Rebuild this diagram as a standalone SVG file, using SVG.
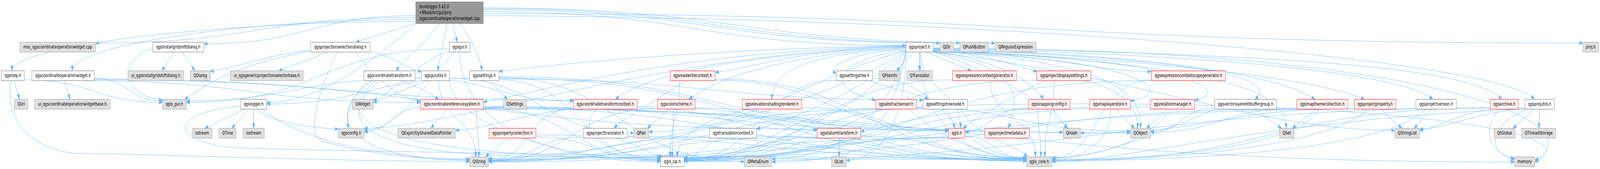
<svg xmlns="http://www.w3.org/2000/svg" width="5980" height="432" viewBox="0 0 5980 432" preserveAspectRatio="none">
<defs>
<marker id="a" markerUnits="userSpaceOnUse" markerWidth="14" markerHeight="10" refX="13" refY="4.5" orient="auto">
<path d="M0,0 L13,4.5 L0,9 z" fill="#63b8ff" stroke="#63b8ff" stroke-width="1"/>
</marker>
<style>
svg{width:100vw;height:100vh}
.e{fill:none;stroke:#63b8ff;stroke-width:1;marker-end:url(#a)}
.node rect{stroke-width:1}
.w rect{fill:#ffffff;stroke:#666666}
.g rect{fill:#e0e0e0;stroke:#999999}
.r rect{fill:#fff0f0;stroke:#ff0000}
.m rect{fill:#999999;stroke:#666666}
text{font-family:"DejaVu Sans","Liberation Sans",sans-serif;font-size:12.8px;fill:#000000}
.c{text-anchor:middle}
</style>
</defs>
<rect x="0" y="0" width="5980" height="432" fill="#ffffff"/>
<g id="connectors">
<!-- main -->
<path class="e" d="M1554,45 C956,45 956,110 357,110"/>
<path class="e" d="M1554,55 C800,55 45,118 45,181"/>
<path class="e" d="M1554,50 C912,50 270,115 270,181"/>
<path class="e" d="M1554,40 C1158,40 1158,112 762,112"/>
<path class="e" d="M1554,60 C1480,75 1400,92 1330,108"/>
<path class="e" d="M1692,60 L1709,108"/>
<path class="e" d="M1671,60 C1660,100 1645,150 1635,181"/>
<path class="e" d="M1718,60 C1760,95 1790,140 1802,181"/>
<path class="e" d="M1642,60 C1600,100 1530,140 1480,181"/>
<path class="e" d="M1560,60 C1400,150 1200,262 997,262"/>
<path class="e" d="M1806,30 C2596,30 2596,116 3386,116"/>
<path class="e" d="M1806,25 C2660,25 2660,110 3513,110"/>
<path class="e" d="M1806,22 C2700,22 2700,110 3587,110"/>
<path class="e" d="M1806,20 C2760,20 2760,110 3719,110"/>
<path class="e" d="M1806,35 C3860,35 3860,110 5916,110"/>
<path class="e" d="M1806,40 C3700,45 5600,150 5735,254"/>
<!-- help -->
<path class="e" d="M53,206 C60,225 68,240 72,254"/>
<path class="e" d="M91,204 C350,204 350,262 607,262"/>
<path class="e" d="M42,206 C10,320 150,392 300,392 S1300,413 1755,413"/>
<!-- covw -->
<path class="e" d="M242,206 L262,254"/>
<path class="e" d="M352,200 C480,200 480,258 607,258"/>
<path class="e" d="M302,206 C936,206 936,262 1571,262"/>
<path class="e" d="M352,202 C1250,202 1250,256 2143,256"/>
<path class="e" d="M352,204 C1700,204 1700,330 3054,330"/>
<!-- instgrid -->
<path class="e" d="M652,133 L605,181"/>
<path class="e" d="M680,133 L728,181"/>
<path class="e" d="M571,126 C460,140 430,240 607,256"/>
<!-- projsel -->
<path class="e" d="M1225,133 L1042,181"/>
<path class="e" d="M1161,128 C1000,140 900,170 786,183"/>
<path class="e" d="M1161,130 C900,165 800,200 690,254"/>
<path class="e" d="M1330,133 C1400,200 1500,258 1571,258"/>
<path class="e" d="M1383,130 C1480,150 1530,178 1575,183"/>
<path class="e" d="M1261,133 C1180,240 1150,350 1200,360 C1400,400 1600,408 1755,408"/>
<!-- gui -->
<path class="e" d="M1680,125 C1200,125 1200,262 696,262"/>
<path class="e" d="M1680,130 C1550,160 1450,250 1395,256"/>
<path class="e" d="M1718,133 C1718,300 2000,413 2469,413"/>
<path class="e" d="M1700,133 C1600,200 1500,333 1361,333"/>
<!-- guiutils -->
<path class="e" d="M1575,200 C1100,200 1100,258 696,258"/>
<path class="e" d="M1640,206 C1640,303 1778,303 1778,401"/>
<path class="e" d="M1680,200 C2020,200 2020,340 2369,340"/>
<path class="e" d="M1600,206 C1500,230 1420,258 1395,262"/>
<path class="e" d="M1680,204 C1680,310 2070,409 2469,409"/>
<!-- settings -->
<path class="e" d="M1830,206 L1897,254"/>
<path class="e" d="M1865,200 C2850,200 2850,411 3836,411"/>
<path class="e" d="M1865,204 C2170,204 2170,410 2469,410"/>
<path class="e" d="M1865,196 C2700,196 2700,335 3545,335"/>
<path class="e" d="M1865,198 C2320,198 2320,413 2782,413"/>
<path class="e" d="M1755,200 C1376,200 1376,266 997,266"/>
<path class="e" d="M1865,202 C2650,202 2650,256 3450,256"/>
<!-- cttrans -->
<path class="e" d="M1385,206 C1330,230 1280,290 1305,328"/>
<path class="e" d="M1500,206 C1560,220 1610,240 1640,254"/>
<path class="e" d="M1551,200 C1850,200 1850,258 2143,258"/>
<path class="e" d="M1390,206 C1200,300 1300,410 1755,410"/>
<path class="e" d="M1420,206 C1250,300 1320,395 2000,400 S3500,408 3836,408"/>
<path class="e" d="M1405,206 C1220,310 1400,400 2469,405"/>
<!-- logger -->
<path class="e" d="M915,279 L766,328"/>
<path class="e" d="M930,279 L866,328"/>
<path class="e" d="M948,279 L948,328"/>
<path class="e" d="M958,279 C1000,310 1150,326 1265,330"/>
<path class="e" d="M899,271 C600,290 650,370 900,378 S3000,405 3836,405"/>
<path class="e" d="M980,279 C1100,350 1400,406 1755,406"/>
<!-- crs -->
<path class="e" d="M1673,279 L1610,328"/>
<path class="e" d="M1807,275 C2800,275 2800,407 3836,407"/>
<path class="e" d="M1807,277 C2140,277 2140,408 2469,408"/>
<path class="e" d="M1780,279 C1780,340 1790,340 1790,401"/>
<path class="e" d="M1571,275 C1460,275 1460,337 1361,337"/>
<path class="e" d="M1807,272 C2680,272 2680,333 3545,333"/>
<path class="e" d="M1807,274 C2890,274 2890,338 3973,338"/>
<path class="e" d="M1807,276 C3000,276 3000,340 4225,340"/>
<path class="e" d="M1807,279 C3700,279 3700,414 5660,414"/>
<!-- ctctx -->
<path class="e" d="M2382,272 C3100,272 3100,405 3836,405"/>
<path class="e" d="M2230,279 C2150,330 2250,400 2469,404"/>
<path class="e" d="M2382,276 C2700,276 2700,333 3054,333"/>
<path class="e" d="M2143,276 C1980,276 1980,410 1826,410"/>
<path class="e" d="M2143,279 C1950,290 1800,333 1702,333"/>
<!-- colorscheme -->
<path class="e" d="M2500,279 L2420,328"/>
<path class="e" d="M2517,279 C2517,340 2513,340 2513,401"/>
<path class="e" d="M2598,276 C3200,276 3200,406 3836,406"/>
<path class="e" d="M2458,278 C2140,278 2140,412 1826,412"/>
<!-- propcoll -->
<path class="e" d="M1895,353 C1870,370 1830,390 1815,401"/>
<path class="e" d="M2003,345 C2900,345 2900,409 3836,409"/>
<path class="e" d="M2003,350 C2230,350 2230,412 2469,412"/>
<!-- projtrans -->
<path class="e" d="M2305,353 C2380,370 2430,392 2475,401"/>
<path class="e" d="M2344,348 C3100,348 3100,410 3836,410"/>
<path class="e" d="M2180,350 C2000,350 2000,411 1826,411"/>
<!-- transctx -->
<path class="e" d="M2700,353 C2620,370 2600,408 2557,408"/>
<path class="e" d="M2828,348 C3330,348 3330,412 3836,412"/>
<path class="e" d="M2652,350 C2240,350 2240,409 1826,409"/>
<!-- elev -->
<path class="e" d="M2800,279 C2650,300 2540,340 2530,401"/>
<path class="e" d="M2996,275 C3400,275 3400,404 3836,404"/>
<!-- rwctx -->
<path class="e" d="M2560,206 C2450,260 2330,300 2295,328"/>
<path class="e" d="M2673,202 C3250,202 3250,403 3836,403"/>
<path class="e" d="M2540,206 C2540,303 2505,303 2505,401"/>
<path class="e" d="M2673,205 C3100,205 3100,331 3545,331"/>
<!-- datum -->
<path class="e" d="M3136,353 L3136,401"/>
<path class="e" d="M3217,348 C3520,348 3520,408 3836,408"/>
<path class="e" d="M3054,350 C2440,350 2440,410 1826,410"/>
<path class="e" d="M3054,352 C2800,352 2800,411 2557,411"/>
<!-- settingstree -->
<path class="e" d="M3250,206 C3350,230 3430,240 3470,254"/>
<path class="e" d="M3261,200 C3550,200 3550,402 3836,402"/>
<path class="e" d="M3126,205 C2840,205 2840,409 2557,409"/>
<!-- stnode -->
<path class="e" d="M3540,279 L3570,328"/>
<path class="e" d="M3590,279 C3650,350 3800,370 3840,401"/>
<path class="e" d="M3450,276 C3000,276 3000,410 2557,410"/>
<path class="e" d="M3450,278 C2640,278 2640,413 1826,413"/>
<!-- qgis.h -->
<path class="e" d="M3607,348 C3720,348 3720,406 3836,406"/>
<path class="e" d="M3545,350 C3215,350 3215,414 2885,414"/>
<path class="e" d="M3545,352 C3050,352 3050,412 2557,412"/>
<path class="e" d="M3545,353 C2700,353 2700,414 1826,414"/>
<!-- project -->
<path class="e" d="M3418,133 L3350,181"/>
<path class="e" d="M3437,133 L3437,181"/>
<path class="e" d="M3460,133 L3630,181"/>
<path class="e" d="M3488,128 C3700,140 3800,170 3875,183"/>
<path class="e" d="M3488,130 C3900,135 4100,183 4303,183"/>
<path class="e" d="M3386,127 C3200,130 3080,170 3126,188"/>
<path class="e" d="M3386,130 C3150,145 3050,220 3273,256"/>
<path class="e" d="M3488,131 C3700,150 3850,200 3900,254"/>
<path class="e" d="M3488,133 C4300,150 4400,240 4225,258"/>
<path class="e" d="M3488,132 C4500,150 4600,240 4465,256"/>
<path class="e" d="M3488,125 C4400,150 4800,190 4690,254"/>
<path class="e" d="M3488,126 C4400,140 4800,200 4915,254"/>
<path class="e" d="M3488,128 C4500,160 4950,210 5100,254"/>
<path class="e" d="M3488,124 C4600,140 5250,190 5355,254"/>
<path class="e" d="M3488,122 C4800,140 5500,170 5613,254"/>
<path class="e" d="M3386,122 C2700,140 2400,200 2300,254"/>
<path class="e" d="M3386,118 C2500,130 2000,240 1807,260"/>
<path class="e" d="M3386,119 C3000,125 2800,175 2673,185"/>
<path class="e" d="M3386,121 C2900,140 2650,210 2575,254"/>
<path class="e" d="M3386,124 C3000,140 2890,180 2885,254"/>
<path class="e" d="M3386,128 C3300,200 3000,300 2828,330"/>
<path class="e" d="M3488,133 C3800,170 3820,240 3768,328"/>
<path class="e" d="M3440,133 C3440,230 3590,230 3590,328"/>
<path class="e" d="M3488,133 C3800,200 3950,300 3990,328"/>
<path class="e" d="M3488,130 C4200,160 4270,250 4262,328"/>
<path class="e" d="M3488,126 C4700,170 4800,250 4808,328"/>
<path class="e" d="M3488,133 C4300,200 4700,333 5213,333"/>
<path class="e" d="M3386,130 C3000,200 2800,337 2425,337"/>
<path class="e" d="M3386,133 C3386,300 3300,410 3163,410"/>
<path class="e" d="M3488,124 C5200,120 6000,300 5737,410"/>
<path class="e" d="M3437,133 C3437,300 3600,408 3836,407"/>
<path class="e" d="M3386,133 C3200,300 2800,405 2557,405"/>
<path class="e" d="M3386,131 C3000,300 2200,405 1826,405"/>
<path class="e" d="M3386,117 C2600,125 2000,170 1865,183"/>
<path class="e" d="M3386,120 C2500,130 1700,328 1361,328"/>
<path class="e" d="M3386,133 C3350,250 3300,335 3217,335"/>
<path class="e" d="M3386,133 C3300,330 3100,406 2885,406"/>
<!-- exprgen -->
<path class="e" d="M3560,204 C3050,204 3050,407 2557,407"/>
<path class="e" d="M3700,206 C3700,300 3870,300 3870,401"/>
<!-- projdisp -->
<path class="e" d="M4050,206 C4200,230 4260,280 4250,328"/>
<path class="e" d="M3940,206 C3940,303 3905,303 3905,401"/>
<path class="e" d="M3905,206 C3800,240 3650,300 3600,328"/>
<path class="e" d="M3875,205 C3200,205 3200,408 2557,408"/>
<!-- exprscopegen -->
<path class="e" d="M4303,204 C4100,204 4100,406 3932,406"/>
<path class="e" d="M4303,206 C3400,206 3400,409 2557,409"/>
<!-- sensor -->
<path class="e" d="M3425,275 C3800,275 3800,335 4225,335"/>
<path class="e" d="M3400,279 C3500,350 3700,405 3836,405"/>
<path class="e" d="M3273,277 C2900,277 2900,406 2557,406"/>
<path class="e" d="M3273,279 C2550,279 2550,412 1826,412"/>
<path class="e" d="M3425,272 C5000,240 6000,330 5737,414"/>
<!-- snapping -->
<path class="e" d="M3935,279 L3990,328"/>
<path class="e" d="M3880,279 C3880,340 3890,340 3890,401"/>
<path class="e" d="M3844,278 C3200,278 3200,411 2557,411"/>
<path class="e" d="M3844,276 C3700,276 3700,337 3607,337"/>
<!-- mlstore -->
<path class="e" d="M4170,279 L4240,328"/>
<path class="e" d="M4150,279 C4160,350 4050,410 3932,410"/>
<path class="e" d="M4073,275 C3300,275 3300,404 2557,404"/>
<!-- relmgr -->
<path class="e" d="M4360,279 L4285,328"/>
<path class="e" d="M4375,279 C4300,360 4100,403 3932,403"/>
<path class="e" d="M4300,274 C3400,274 3400,403 2557,403"/>
<!-- vleditbuf -->
<path class="e" d="M4690,279 L4790,328"/>
<path class="e" d="M4540,276 C4420,276 4420,335 4300,335"/>
<path class="e" d="M4540,279 C4300,350 4100,404 3932,404"/>
<!-- maptheme -->
<path class="e" d="M4920,279 L4830,328"/>
<path class="e" d="M4847,277 C4570,277 4570,338 4300,338"/>
<path class="e" d="M4930,279 C4850,380 4300,408 3932,408"/>
<path class="e" d="M4847,279 C3700,279 3700,402 2557,402"/>
<!-- projprop -->
<path class="e" d="M5160,279 L5240,328"/>
<path class="e" d="M5062,278 C4550,278 4550,340 4038,340"/>
<path class="e" d="M5110,279 C5000,360 4500,409 3932,409"/>
<!-- projver -->
<path class="e" d="M5350,279 L5285,328"/>
<path class="e" d="M5330,279 C5200,370 4600,411 3932,411"/>
<path class="e" d="M5292,277 C3500,277 3500,407 1826,407"/>
<!-- archive -->
<path class="e" d="M5603,279 C5540,330 5560,390 5660,405"/>
<path class="e" d="M5570,276 C4750,276 4750,412 3932,412"/>
<path class="e" d="M5570,279 C5450,290 5350,333 5306,333"/>
<!-- projutils -->
<path class="e" d="M5733,279 L5655,328"/>
<path class="e" d="M5754,279 L5752,328"/>
<path class="e" d="M5712,279 C5580,310 5540,385 5660,409"/>
<path class="e" d="M5699,279 C4800,300 4200,413 3932,413"/>
<path class="e" d="M5699,277 C5500,290 5400,330 5306,330"/>
<path class="e" d="M5699,275 C4100,275 4100,413 2557,413"/>
</g>
<g id="main" class="node m"><rect x="1554" y="5" width="252" height="55"/><text x="1566" y="21">/build/qgis-3.42.0</text><text x="1566" y="36">+99sid/src/gui/proj</text><text x="1566" y="51">/qgscoordinateoperationwidget.cpp</text></g>
<g id="moc" class="node g"><rect x="74" y="108" width="283" height="25"/><text class="c" x="215.5" y="124.5">moc_qgscoordinateoperationwidget.cpp</text></g>
<g id="instgrid" class="node w"><rect x="571" y="108" width="191" height="25"/><text class="c" x="666.5" y="124.5">qgsinstallgridshiftdialog.h</text></g>
<g id="projsel" class="node w"><rect x="1161" y="108" width="222" height="25"/><text class="c" x="1272" y="124.5">qgsprojectionselectiondialog.h</text></g>
<g id="gui" class="node w"><rect x="1680" y="108" width="77" height="25"/><text class="c" x="1718.5" y="124.5">qgsgui.h</text></g>
<g id="project" class="node w"><rect x="3386" y="108" width="102" height="25"/><text class="c" x="3437" y="124.5">qgsproject.h</text></g>
<g id="qdir" class="node g"><rect x="3513" y="108" width="51" height="25"/><text class="c" x="3538.5" y="124.5">QDir</text></g>
<g id="qpushbutton" class="node g"><rect x="3587" y="108" width="108" height="25"/><text class="c" x="3641" y="124.5">QPushButton</text></g>
<g id="qregexp" class="node g"><rect x="3719" y="108" width="154" height="25"/><text class="c" x="3796" y="124.5">QRegularExpression</text></g>
<g id="projh" class="node g"><rect x="5916" y="108" width="59" height="25"/><text class="c" x="5945.5" y="124.5">proj.h</text></g>
<g id="help" class="node w"><rect x="5" y="181" width="86" height="25"/><text class="c" x="48" y="197.5">qgshelp.h</text></g>
<g id="covw" class="node w"><rect x="119" y="181" width="233" height="25"/><text class="c" x="235.5" y="197.5">qgscoordinateoperationwidget.h</text></g>
<g id="uiinst" class="node g"><rect x="478" y="181" width="209" height="25"/><text class="c" x="582.5" y="197.5">ui_qgsinstallgridshiftdialog.h</text></g>
<g id="qdialog" class="node g"><rect x="711" y="181" width="75" height="25"/><text class="c" x="748.5" y="197.5">QDialog</text></g>
<g id="uigeneric" class="node g"><rect x="861" y="181" width="272" height="25"/><text class="c" x="997" y="197.5">ui_qgsgenericprojectionselectorbase.h</text></g>
<g id="cttrans" class="node w"><rect x="1360" y="181" width="191" height="25"/><text class="c" x="1455.5" y="197.5">qgscoordinatetransform.h</text></g>
<g id="guiutils" class="node w"><rect x="1575" y="181" width="105" height="25"/><text class="c" x="1627.5" y="197.5">qgsguiutils.h</text></g>
<g id="settings" class="node w"><rect x="1755" y="181" width="110" height="25"/><text class="c" x="1810" y="197.5">qgssettings.h</text></g>
<g id="rwctx" class="node r"><rect x="2505" y="181" width="168" height="25"/><text class="c" x="2589" y="197.5">qgsreadwritecontext.h</text></g>
<g id="settingstree" class="node w"><rect x="3126" y="181" width="135" height="25"/><text class="c" x="3193.5" y="197.5">qgssettingstree.h</text></g>
<g id="qfileinfo" class="node g"><rect x="3285" y="181" width="80" height="25"/><text class="c" x="3325" y="197.5">QFileInfo</text></g>
<g id="qtranslator" class="node g"><rect x="3389" y="181" width="96" height="25"/><text class="c" x="3437" y="197.5">QTranslator</text></g>
<g id="exprgen" class="node r"><rect x="3560" y="181" width="239" height="25"/><text class="c" x="3679.5" y="197.5">qgsexpressioncontextgenerator.h</text></g>
<g id="projdisp" class="node r"><rect x="3875" y="181" width="202" height="25"/><text class="c" x="3976" y="197.5">qgsprojectdisplaysettings.h</text></g>
<g id="exprscopegen" class="node r"><rect x="4303" y="181" width="278" height="25"/><text class="c" x="4442" y="197.5">qgsexpressioncontextscopegenerator.h</text></g>
<g id="qurl" class="node g"><rect x="54" y="254" width="51" height="25"/><text class="c" x="79.5" y="270.5">QUrl</text></g>
<g id="uicovwbase" class="node g"><rect x="129" y="254" width="283" height="25"/><text class="c" x="270.5" y="270.5">ui_qgscoordinateoperationwidgetbase.h</text></g>
<g id="qgisgui" class="node g"><rect x="607" y="254" width="89" height="25"/><text class="c" x="651.5" y="270.5">qgis_gui.h</text></g>
<g id="logger" class="node w"><rect x="899" y="254" width="98" height="25"/><text class="c" x="948" y="270.5">qgslogger.h</text></g>
<g id="qwidget" class="node g"><rect x="1316" y="254" width="79" height="25"/><text class="c" x="1355.5" y="270.5">QWidget</text></g>
<g id="crs" class="node r"><rect x="1571" y="254" width="236" height="25"/><text class="c" x="1689" y="270.5">qgscoordinatereferencesystem.h</text></g>
<g id="qsettings" class="node g"><rect x="1881" y="254" width="86" height="25"/><text class="c" x="1924" y="270.5">QSettings</text></g>
<g id="ctctx" class="node r"><rect x="2143" y="254" width="239" height="25"/><text class="c" x="2262.5" y="270.5">qgscoordinatetransformcontext.h</text></g>
<g id="colorscheme" class="node r"><rect x="2458" y="254" width="140" height="25"/><text class="c" x="2528" y="270.5">qgscolorscheme.h</text></g>
<g id="elev" class="node r"><rect x="2774" y="254" width="222" height="25"/><text class="c" x="2885" y="270.5">qgselevationshadingrenderer.h</text></g>
<g id="sensor" class="node r"><rect x="3273" y="254" width="152" height="25"/><text class="c" x="3349" y="270.5">qgsabstractsensor.h</text></g>
<g id="stnode" class="node w"><rect x="3450" y="254" width="166" height="25"/><text class="c" x="3533" y="270.5">qgssettingstreenode.h</text></g>
<g id="snapping" class="node r"><rect x="3844" y="254" width="155" height="25"/><text class="c" x="3921.5" y="270.5">qgssnappingconfig.h</text></g>
<g id="mlstore" class="node r"><rect x="4073" y="254" width="152" height="25"/><text class="c" x="4149" y="270.5">qgsmaplayerstore.h</text></g>
<g id="relmgr" class="node r"><rect x="4300" y="254" width="165" height="25"/><text class="c" x="4382.5" y="270.5">qgsrelationmanager.h</text></g>
<g id="vleditbuf" class="node w"><rect x="4540" y="254" width="231" height="25"/><text class="c" x="4655.5" y="270.5">qgsvectorlayereditbuffergroup.h</text></g>
<g id="maptheme" class="node r"><rect x="4847" y="254" width="191" height="25"/><text class="c" x="4942.5" y="270.5">qgsmapthemecollection.h</text></g>
<g id="projprop" class="node r"><rect x="5062" y="254" width="155" height="25"/><text class="c" x="5139.5" y="270.5">qgsprojectproperty.h</text></g>
<g id="projver" class="node w"><rect x="5292" y="254" width="151" height="25"/><text class="c" x="5367.5" y="270.5">qgsprojectversion.h</text></g>
<g id="archive" class="node r"><rect x="5570" y="254" width="105" height="25"/><text class="c" x="5622.5" y="270.5">qgsarchive.h</text></g>
<g id="projutils" class="node w"><rect x="5699" y="254" width="111" height="25"/><text class="c" x="5754.5" y="270.5">qgsprojutils.h</text></g>
<g id="sstream" class="node g"><rect x="718" y="328" width="75" height="25"/><text class="c" x="755.5" y="344.5">sstream</text></g>
<g id="qtime" class="node g"><rect x="818" y="328" width="65" height="25"/><text class="c" x="850.5" y="344.5">QTime</text></g>
<g id="iostream" class="node g"><rect x="908" y="328" width="80" height="25"/><text class="c" x="948" y="344.5">iostream</text></g>
<g id="config" class="node g"><rect x="1265" y="328" width="96" height="25"/><text class="c" x="1313" y="344.5">qgsconfig.h</text></g>
<g id="qesdp" class="node g"><rect x="1487" y="328" width="215" height="25"/><text class="c" x="1594.5" y="344.5">QExplicitlySharedDataPointer</text></g>
<g id="propcoll" class="node r"><rect x="1828" y="328" width="175" height="25"/><text class="c" x="1915.5" y="344.5">qgspropertycollection.h</text></g>
<g id="projtrans" class="node w"><rect x="2180" y="328" width="164" height="25"/><text class="c" x="2262" y="344.5">qgsprojecttranslator.h</text></g>
<g id="qpair" class="node g"><rect x="2369" y="328" width="56" height="25"/><text class="c" x="2397" y="344.5">QPair</text></g>
<g id="transctx" class="node w"><rect x="2652" y="328" width="176" height="25"/><text class="c" x="2740" y="344.5">qgstranslationcontext.h</text></g>
<g id="datum" class="node r"><rect x="3054" y="328" width="163" height="25"/><text class="c" x="3135.5" y="344.5">qgsdatumtransform.h</text></g>
<g id="qgish" class="node r"><rect x="3545" y="328" width="62" height="25"/><text class="c" x="3576" y="344.5">qgis.h</text></g>
<g id="projmeta" class="node r"><rect x="3681" y="328" width="166" height="25"/><text class="c" x="3764" y="344.5">qgsprojectmetadata.h</text></g>
<g id="qhash" class="node g"><rect x="3973" y="328" width="65" height="25"/><text class="c" x="4005.5" y="344.5">QHash</text></g>
<g id="qobject" class="node g"><rect x="4225" y="328" width="75" height="25"/><text class="c" x="4262.5" y="344.5">QObject</text></g>
<g id="qset" class="node g"><rect x="4782" y="328" width="54" height="25"/><text class="c" x="4809" y="344.5">QSet</text></g>
<g id="qstringlist" class="node g"><rect x="5213" y="328" width="93" height="25"/><text class="c" x="5259.5" y="344.5">QStringList</text></g>
<g id="qtglobal" class="node g"><rect x="5584" y="328" width="79" height="25"/><text class="c" x="5623.5" y="344.5">QtGlobal</text></g>
<g id="qthreadstorage" class="node g"><rect x="5687" y="328" width="127" height="25"/><text class="c" x="5750.5" y="344.5">QThreadStorage</text></g>
<g id="qstring" class="node g"><rect x="1755" y="401" width="71" height="25"/><text class="c" x="1790.5" y="417.5">QString</text></g>
<g id="qgissip" class="node w"><rect x="2469" y="401" width="88" height="25"/><text class="c" x="2513" y="417.5">qgis_sip.h</text></g>
<g id="qmetaenum" class="node g"><rect x="2782" y="401" width="103" height="25"/><text class="c" x="2833.5" y="417.5">QMetaEnum</text></g>
<g id="qlist" class="node g"><rect x="3108" y="401" width="55" height="25"/><text class="c" x="3135.5" y="417.5">QList</text></g>
<g id="qgiscore" class="node g"><rect x="3836" y="401" width="96" height="25"/><text class="c" x="3884" y="417.5">qgis_core.h</text></g>
<g id="memory" class="node g"><rect x="5660" y="401" width="77" height="25"/><text class="c" x="5698.5" y="417.5">memory</text></g>
</svg>
